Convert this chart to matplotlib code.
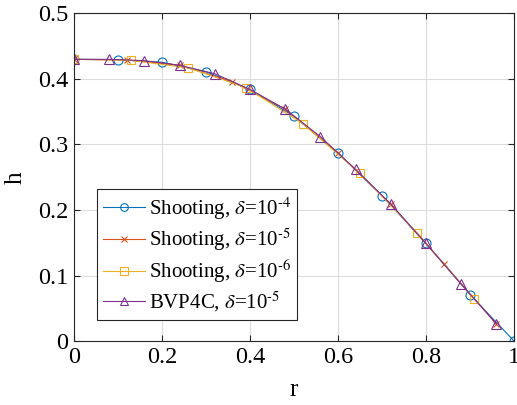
import matplotlib
matplotlib.use("Agg")
import matplotlib.pyplot as plt

plt.rcParams.update({"font.family": "Liberation Serif", "mathtext.fontset": "stix",
                     "font.size": 17})

# Shooting, delta = 1e-4
r4 = [0, 0.1, 0.2, 0.3, 0.4, 0.5, 0.6, 0.7, 0.8, 0.9, 1.0]
h4 = [0.430, 0.4295, 0.4255, 0.411, 0.384, 0.343, 0.287, 0.222, 0.149, 0.071, 0.0]
# Shooting, delta = 1e-5
r5 = [0, 0.12, 0.24, 0.36, 0.48, 0.60, 0.72, 0.84, 0.96]
h5 = [0.430, 0.429, 0.421, 0.396, 0.354, 0.287, 0.209, 0.118, 0.026]
# Shooting, delta = 1e-6
r6 = [0, 0.13, 0.26, 0.39, 0.52, 0.65, 0.78, 0.91]
h6 = [0.430, 0.4285, 0.417, 0.387, 0.332, 0.256, 0.165, 0.064]
# BVP4C, delta = 1e-5
rb = [0, 0.08, 0.16, 0.24, 0.32, 0.40, 0.48, 0.56, 0.64, 0.72, 0.80, 0.88, 0.96]
hb = [0.430, 0.430, 0.428, 0.421, 0.408, 0.384, 0.354, 0.312, 0.262, 0.209, 0.149, 0.087, 0.026]

series = [
    (r4, h4, "o", 6.5, "#0072BD", r"Shooting, $\delta$=10$^{\text{-}4}$"),
    (r5, h5, "x", 5, "#D95319", r"Shooting, $\delta$=10$^{\text{-}5}$"),
    (r6, h6, "s", 6, "#EDB120", r"Shooting, $\delta$=10$^{\text{-}6}$"),
    (rb, hb, "^", 6.5, "#7E2F8E", r"BVP4C, $\delta$=10$^{\text{-}5}$"),
]

fig = plt.figure(figsize=(5.17, 4.05), dpi=100)
ax = fig.add_axes([0.1431, 0.158, 0.8511, 0.8087])
for r, h, m, ms, c, lab in series:
    ax.plot(r, h, marker=m, color=c, lw=0.8, ms=ms, mfc="none", mew=0.8, label=lab)

ax.set_xlim(0, 1)
ax.set_ylim(0, 0.5)
ax.set_xticks([0, 0.2, 0.4, 0.6, 0.8, 1])
ax.set_xticklabels(["0", "0.2", "0.4", "0.6", "0.8", "1"])
ax.set_yticks([0, 0.1, 0.2, 0.3, 0.4, 0.5])
ax.set_yticklabels(["0", "0.1", "0.2", "0.3", "0.4", "0.5"])
ax.grid(True, color="#dcdcdc", lw=0.8)
ax.set_axisbelow(True)
ax.tick_params(direction="in", length=4, top=True, right=True, labelsize=17.5,
               color="#262626", pad=4)
for s in ax.spines.values():
    s.set_color("#262626")
    s.set_linewidth(0.8)
ax.set_xlabel("r", fontsize=18, labelpad=8)
ax.set_ylabel("h", fontsize=18, labelpad=8)

leg = ax.legend(loc="upper left", bbox_to_anchor=(0.052, 0.465), fancybox=False,
                edgecolor="#262626", framealpha=1, fontsize=15, handlelength=2.0,
                handletextpad=0.2, labelspacing=0.22, borderpad=0.3,
                borderaxespad=0, markerscale=0.85)
leg.get_frame().set_linewidth(0.8)

fig.savefig("out.png", dpi=100)
